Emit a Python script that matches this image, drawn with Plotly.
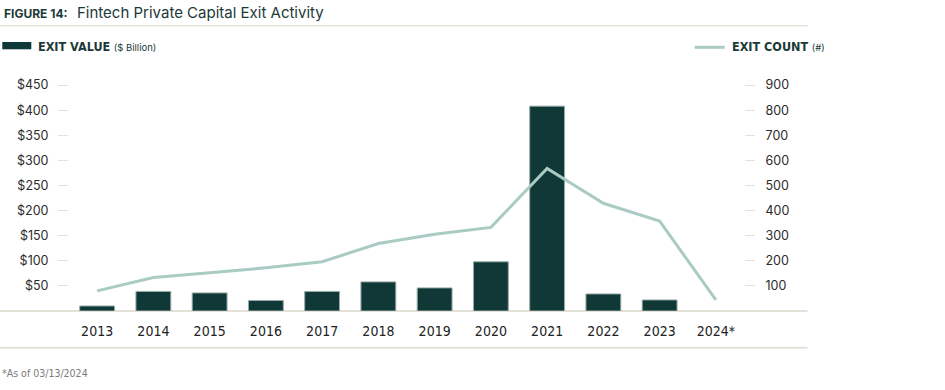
import plotly.graph_objects as go

years = ["2013", "2014", "2015", "2016", "2017", "2018", "2019", "2020", "2021", "2022", "2023", "2024*"]
exit_value = [10, 39, 36, 21, 39, 58, 46, 98, 408, 34, 22, None]
exit_count = [80, 133, 152, 172, 196, 269, 306, 333, 568, 429, 358, 44]
left_ticks = [50, 100, 150, 200, 250, 300, 350, 400, 450]
left_labels = ["$" + str(v) for v in left_ticks]
right_ticks = [100, 200, 300, 400, 500, 600, 700, 800, 900]

W, H = 945, 390
L, R = 69.4, 744.4
T, B = 75, 311

def px(x):
    return (x - L) / (R - L)

def py(y):
    return (B - y) / (B - T)

DARK = "#0f3836"
SAGE = "#a9cbc3"
GRID = "#e4e1d9"
TXT = "#2b2b2b"
COND = "DejaVu Sans Condensed"

fig = go.Figure()
fig.add_trace(go.Bar(
    x=years, y=exit_value, marker=dict(color=DARK, line=dict(color="#9aaca7", width=1)),
    width=0.62, yaxis="y", showlegend=False, hoverinfo="x+y"))
fig.add_trace(go.Scatter(
    x=years, y=exit_count, mode="lines", line=dict(color=SAGE, width=3),
    yaxis="y2", showlegend=False))

fig.update_layout(
    width=W, height=H,
    margin=dict(l=L, r=W - R, t=T, b=H - B, pad=0),
    paper_bgcolor="white", plot_bgcolor="white",
    xaxis=dict(showgrid=False, showline=False, ticks="", zeroline=False,
               tickfont=dict(family=COND, size=14, color="#222222"),
               ticklabelstandoff=10),
    yaxis=dict(range=[0, 470], tickvals=left_ticks, ticktext=left_labels,
               showgrid=False, zeroline=False, showline=False,
               ticks="outside", ticklen=10, tickcolor=GRID, tickwidth=1,
               ticklabelstandoff=7,
               tickfont=dict(family="Inter", size=12.5, color=TXT)),
    yaxis2=dict(range=[0, 940], tickvals=right_ticks, overlaying="y", side="right",
                showgrid=False, zeroline=False, showline=False,
                ticks="outside", ticklen=10, tickcolor=GRID, tickwidth=1,
                ticklabelstandoff=8,
                tickfont=dict(family="Inter", size=12.5, color=TXT)),
    font=dict(family="Inter", color=TXT),
)

shapes = []
for yy, lw in [(25.7, 1.5), (311, 2), (347.7, 2)]:
    shapes.append(dict(type="line", xref="paper", yref="paper", x0=px(0), x1=px(808),
                       y0=py(yy), y1=py(yy), line=dict(color=GRID, width=lw), layer="below"))
shapes.append(dict(type="rect", xref="paper", yref="paper", x0=px(2.7), x1=px(31.7),
                   y0=py(49.3), y1=py(42), fillcolor=DARK, line=dict(width=0)))
shapes.append(dict(type="line", xref="paper", yref="paper", x0=px(695), x1=px(725),
                   y0=py(47.3), y1=py(47.3), line=dict(color=SAGE, width=3)))
fig.update_layout(shapes=shapes)

ann = []
ann.append(dict(xref="paper", yref="paper", x=px(2), y=py(13), xanchor="left", yanchor="middle",
                showarrow=False, text="<b>FIGURE 14:</b>",
                font=dict(family="Inter", size=12, color="#1b3a37")))
ann.append(dict(xref="paper", yref="paper", x=px(75), y=py(12.5), xanchor="left", yanchor="middle",
                showarrow=False, text="Fintech Private Capital Exit Activity",
                font=dict(family="Inter", size=15, color="#1b3a37")))
ann.append(dict(xref="paper", yref="paper", x=px(36), y=py(46), xanchor="left", yanchor="middle",
                showarrow=False,
                text="<b>EXIT VALUE</b> <span style='font-family:Inter;font-size:9.5px'>($ Billion)</span>",
                font=dict(family=COND, size=12.5, color="#1b3a37")))
ann.append(dict(xref="paper", yref="paper", x=px(730), y=py(46), xanchor="left", yanchor="middle",
                showarrow=False,
                text="<b>EXIT COUNT</b> <span style='font-family:Inter;font-size:9.5px'>(#)</span>",
                font=dict(family=COND, size=12.5, color="#1b3a37")))
ann.append(dict(xref="paper", yref="paper", x=px(0), y=py(373), xanchor="left", yanchor="middle",
                showarrow=False, text="*As of 03/13/2024",
                font=dict(family=COND, size=10.5, color="#7a7a7a")))
fig.update_layout(annotations=ann)

fig.write_html("out.html", config={"displayModeBar": False},
               post_script="document.body.style.margin='0';document.body.style.overflow='hidden';")
